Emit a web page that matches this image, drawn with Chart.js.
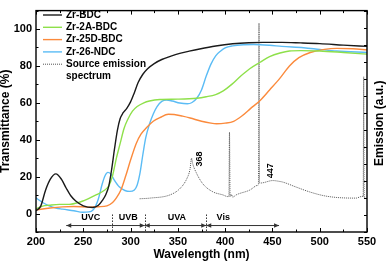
<!DOCTYPE html>
<html>
<head>
<meta charset="utf-8">
<script src="https://cdn.jsdelivr.net/npm/chart.js@4/dist/chart.umd.min.js"></script>
<style>
html,body{margin:0;padding:0;background:#fff;}
#wrap{width:387px;height:266px;}
</style>
</head>
<body>
<div id="wrap"><canvas id="c" width="387" height="266"></canvas></div>
<script>
// ---------------- DATA ----------------
const seriesNames = ['Zr-BDC', 'Zr-2A-BDC', 'Zr-25D-BDC', 'Zr-26-NDC'];
const emissionName = 'Source emission spectrum';

const bdcNm = [200,205,210,215,221,227,232,237,242,250,260,266,270,274,277,280,283,286,289,292,296,300,304,308,313,318,325,333,342,352,362,373,390,408,425,440,460,480,500,525,550];
const bdcT  = [1.5,4,12.5,18.5,21.5,18.5,13.7,9.5,6.8,4.2,3.3,4.5,7,10.5,15,24,35,45,51.5,54.5,57,60.5,65.5,71,75.5,78.5,81.3,83.5,85.2,86.8,88,89.2,90.8,92,92.6,92.8,92.8,92.5,92.1,91.3,90.6];

const a2Nm = [200,207,214,225,235,245,255,264,272,277,281,285,289,293,297,302,307,314,320,331,350,370,380,390,398,407,416,426,437,447,458,468,480,500,525,550];
const a2T  = [2.5,4,4.5,5,5,6,8,10.2,12.5,15,20.6,30,38,46,51,55.5,58,60,61,61.8,62,62.5,63.3,64.5,66.5,70,74.3,78.5,82,85,87,88.1,88.3,88.1,87.3,86.4];

const d25Nm = [200,215,228,240,256,266,275,281,285,290,295,300,306,311,317,324,331,340,346,355,363,375,385,391,400,409,418,427,437,447,458,468,478,490,505,518,535,550];
const d25T  = [2,3,3.6,3.8,3.5,3.7,4.2,6,8.5,13,20.6,29,38,43,46.6,50,52,53.8,53.7,52.8,51.8,50,49,48.7,49,50,53,57,61.3,67,73.4,80,84.5,87.3,89,89.5,89.3,88.7];

const ndcNm = [200,207,214,221,228,240,249.5,256,260,263,266,270,273,276,279,283,288,294,299,304,307,310,313,316,320,324,328,333,338,344,352,360,365,370,375,380,385,390,395,400,408,420,430,447,460,483,500,518,550];
const ndcT  = [8.5,6,4.2,3,2.4,1.5,0.7,0.9,1.8,4,8,16,20.5,22.3,21.5,18,14.5,12.5,12,12.8,15.5,22,32,41,48.5,54,58,60.8,61.5,61,59.9,59.5,60.2,62.5,67,74.5,81,85.5,88,89.8,90.9,91.5,91.6,91.2,90.6,89.9,89,88.1,87.3];

const emNm = [309.6,320.5,341.7,352.2,359.3,362.8,364.5,365.5,369.4,376.4,387,397.5,402.8,404,404.6,405.2,406.5,408,411.7,426,434.5,435.2,435.8,436.4,439.8,450.4,457.5,461,475,489,503.6,517.4,538.6,543.9,546,546.5,547,548];
const emVal = [1.95,1.99,2.18,2.55,3.11,3.67,4.33,4.05,3.49,2.83,2.36,2.18,2.08,2.08,5.87,2.08,2.2,2.05,2.18,2.46,2.74,2.8,12.27,2.87,2.89,3.02,2.97,2.93,2.64,2.36,2.14,2.03,1.99,2.08,2.1,9.12,2.03,2.03];

const peakLabels = ['368', '447'];
const peakLabelNm = [373, 448.5];
const peakLabelEm = [4.28, 3.6];

const regionNames = ['UVC', 'UVB', 'UVA', 'Vis'];
const regionFrom = [232, 280, 315, 380];
const regionTo = [280, 315, 380, 457];
const regionLabelNm = [258, 297.5, 349, 398];
const regionDividers = [280, 315, 380];

const xTickValues = [200, 250, 300, 350, 400, 450, 500, 550];
const yTickValues = [0, 20, 40, 60, 80, 100];

// ---------------- CHART ----------------
const FONT = "'Liberation Sans', Arial, Helvetica, sans-serif";
Chart.defaults.font.family = FONT;
Chart.defaults.color = '#000';

const colors = ['#1a1a1a', '#8ee04a', '#fb8a3c', '#5bbcf5'];
const pairs = (xs, ys) => xs.map((v, i) => ({x: v, y: ys[i]}));
const tData = [pairs(bdcNm, bdcT), pairs(a2Nm, a2T), pairs(d25Nm, d25T), pairs(ndcNm, ndcT)];

const datasets = seriesNames.map((n, i) => ({
  label: n, data: tData[i], yAxisID: 'y',
  borderColor: colors[i], borderWidth: 1.4, pointRadius: 0,
  cubicInterpolationMode: 'monotone', fill: false
}));
datasets.push({
  label: emissionName, data: pairs(emNm, emVal), yAxisID: 'y2',
  borderColor: '#555555', borderWidth: 1, borderDash: [1, 1], pointRadius: 0,
  cubicInterpolationMode: 'monotone', fill: false
});

const overlay = {
  id: 'overlay',
  afterDatasetsDraw(chart) {
    const {ctx, chartArea: a, scales} = chart;
    const x = scales.x, y = scales.y, y2 = scales.y2;
    ctx.save();
    // frame
    ctx.strokeStyle = '#000';
    ctx.lineWidth = 1.4;
    ctx.strokeRect(a.left, a.top, a.right - a.left, a.bottom - a.top);
    // inward ticks
    ctx.lineWidth = 1;
    ctx.beginPath();
    for (let v = x.min; v <= x.max; v += 25) {
      const px = Math.round(x.getPixelForValue(v)) + 0.5;
      const len = (v % 50 === 0) ? 4 : 2.5;
      ctx.moveTo(px, a.bottom); ctx.lineTo(px, a.bottom - len);
      ctx.moveTo(px, a.top); ctx.lineTo(px, a.top + len);
    }
    for (let v = y.min; v <= y.max; v += 10) {
      const py = Math.round(y.getPixelForValue(v)) + 0.5;
      const len = (v % 20 === 0) ? 4 : 2.5;
      ctx.moveTo(a.left, py); ctx.lineTo(a.left + len, py);
    }
    for (let v = y2.min; v <= y2.max; v += 1) {
      const py = Math.round(y2.getPixelForValue(v)) + 0.5;
      ctx.moveTo(a.right, py); ctx.lineTo(a.right - 3, py);
    }
    ctx.stroke();

    // legend
    const lx0 = a.left + 7, lx1 = a.left + 26, tx = a.left + 30;
    const rowY = [15, 27.3, 39.6, 51.9, 64.2];
    ctx.font = 'bold 10px ' + FONT;
    ctx.textBaseline = 'middle';
    ctx.textAlign = 'left';
    chart.data.datasets.forEach((ds, i) => {
      ctx.strokeStyle = ds.borderColor;
      ctx.lineWidth = ds.borderWidth;
      ctx.setLineDash(ds.borderDash || []);
      ctx.beginPath();
      ctx.moveTo(lx0, rowY[i]); ctx.lineTo(lx1, rowY[i]);
      ctx.stroke();
      ctx.setLineDash([]);
      ctx.fillStyle = '#000';
      if (i === 4) {
        const parts = ds.label.split(' ');
        ctx.fillText(parts.slice(0, 2).join(' '), tx, rowY[i]);
        ctx.fillText(parts.slice(2).join(' '), tx, rowY[i] + 12.3);
      } else {
        ctx.fillText(ds.label, tx, rowY[i]);
      }
    });

    // peak labels (rotated)
    ctx.font = 'bold 9px ' + FONT;
    ctx.textAlign = 'center';
    ctx.textBaseline = 'middle';
    peakLabels.forEach((t, i) => {
      ctx.save();
      ctx.translate(x.getPixelForValue(peakLabelNm[i]), y2.getPixelForValue(peakLabelEm[i]));
      ctx.rotate(-Math.PI / 2);
      ctx.fillText(t, 0, 0);
      ctx.restore();
    });

    // region annotations
    const arrowY = y.getPixelForValue(-6.5);
    const textY = y.getPixelForValue(-2);
    ctx.strokeStyle = '#333';
    ctx.fillStyle = '#333';
    ctx.lineWidth = 1;
    const head = (px, dir) => {
      ctx.beginPath();
      ctx.moveTo(px, arrowY);
      ctx.lineTo(px - dir * 5, arrowY - 2.2);
      ctx.lineTo(px - dir * 5, arrowY + 2.2);
      ctx.closePath();
      ctx.fill();
    };
    regionNames.forEach((n, i) => {
      const p0 = x.getPixelForValue(regionFrom[i]);
      const p1 = x.getPixelForValue(regionTo[i]);
      ctx.beginPath();
      ctx.moveTo(p0, arrowY); ctx.lineTo(p1, arrowY);
      ctx.stroke();
    });
    head(x.getPixelForValue(regionFrom[0]), -1);
    head(x.getPixelForValue(regionTo[1]), 1);
    head(x.getPixelForValue(regionFrom[2]), -1);
    head(x.getPixelForValue(regionTo[2]), 1);
    head(x.getPixelForValue(regionFrom[3]), -1);
    head(x.getPixelForValue(regionTo[3]), 1);
    ctx.setLineDash([1.5, 1.5]);
    ctx.beginPath();
    regionDividers.forEach(v => {
      const px = Math.round(x.getPixelForValue(v)) + 0.5;
      ctx.moveTo(px, y.getPixelForValue(-0.5));
      ctx.lineTo(px, a.bottom);
    });
    ctx.stroke();
    ctx.setLineDash([]);
    ctx.fillStyle = '#000';
    ctx.font = 'bold 9px ' + FONT;
    regionNames.forEach((n, i) => {
      ctx.fillText(n, x.getPixelForValue(regionLabelNm[i]), textY);
    });

    // right axis title (reads bottom-to-top)
    ctx.font = 'bold 12px ' + FONT;
    ctx.save();
    ctx.translate(380, (a.top + a.bottom) / 2 + 2);
    ctx.rotate(-Math.PI / 2);
    ctx.fillText('Emission (a.u.)', 0, 0);
    ctx.restore();

    ctx.restore();
  }
};

new Chart(document.getElementById('c'), {
  type: 'line',
  data: {datasets},
  options: {
    responsive: false,
    animation: false,
    layout: {padding: {top: 1, left: 0, right: 0, bottom: 0}},
    plugins: {legend: {display: false}, tooltip: {enabled: false}},
    scales: {
      x: {
        type: 'linear', min: 200, max: 550,
        grid: {display: false, drawTicks: false},
        border: {display: false},
        afterBuildTicks: s => { s.ticks = xTickValues.map(v => ({value: v})); },
        ticks: {font: {weight: 'bold', size: 11}, padding: 3, maxRotation: 0, autoSkip: false},
        title: {display: true, text: 'Wavelength (nm)', font: {weight: 'bold', size: 12, lineHeight: 1.2}, padding: {top: 0, bottom: 4}},
        afterFit: s => { s.height = 34; }
      },
      y: {
        type: 'linear', position: 'left', min: -10, max: 110,
        grid: {display: false, drawTicks: false},
        border: {display: false},
        afterBuildTicks: s => { s.ticks = yTickValues.map(v => ({value: v})); },
        ticks: {font: {weight: 'bold', size: 11}, padding: 4},
        title: {display: true, text: 'Transmittance (%)', font: {weight: 'bold', size: 12, lineHeight: 1}, padding: 0},
        afterFit: s => { s.width = 36; }
      },
      y2: {
        type: 'linear', position: 'right', min: 0, max: 13,
        grid: {display: false, drawTicks: false},
        border: {display: false},
        ticks: {display: false},
        afterFit: s => { s.width = 20; }
      }
    }
  },
  plugins: [overlay]
});
</script>
</body>
</html>
